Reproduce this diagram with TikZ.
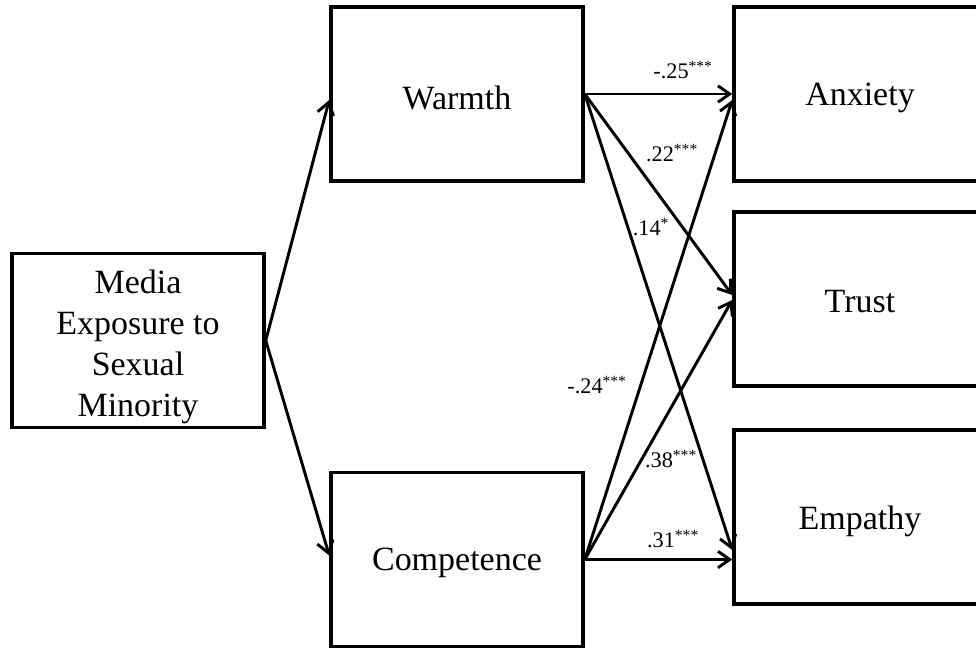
\documentclass[tikz,border=0pt]{standalone}
\usepackage{fontspec}
\setmainfont{Liberation Serif}
\usetikzlibrary{arrows.meta,calc}
\begin{document}
\begin{tikzpicture}[x=0.03cm,y=-0.03cm,
  varbox/.style={draw,line width=3pt,minimum width=7.56cm,minimum height=5.22cm,
    inner sep=0pt,align=center,font=\fontsize{29}{35}\selectfont},
  boxtext/.style={inner sep=0pt,align=center,font=\fontsize{29}{35}\selectfont},
  path/.style={line width=2.5pt,-{Straight Barb[length=10pt,width=14pt,line width=2.5pt]}},
  coef/.style={inner sep=0pt,font=\fontsize{19}{21}\selectfont}]
\useasboundingbox (0,0) rectangle (976,649);
\clip (0,0) rectangle (976,649);
\fill[white] (0,0) rectangle (976,649);

% predictor, mediators and outcomes
\node[varbox] (media) at (138,340.5) {};
\node[varbox] (warm) at (457,94) {};
\node[varbox] (comp) at (457,559.5) {};
\node[varbox] (anx) at (860,94) {};
\node[varbox] (trust) at (860,299) {};
\node[varbox] (emp) at (860,517) {};

% box labels, set a little below the box centres
\node[boxtext] (tmedia) at ($(media)+(0,6)$) {Media\\Exposure to\\Sexual\\Minority};
\node[boxtext] (twarm) at ($(warm)+(0,4)$) {Warmth};
\node[boxtext] (tcomp) at ($(comp)+(0,3)$) {Competence};
\node[boxtext] (tanx) at ($(anx)+(0,4)$) {Anxiety};
\node[boxtext] (ttrust) at ($(trust)+(0,3)$) {Trust};
\node[boxtext] (temp) at ($(emp)+(0,4)$) {Empathy};

% paths from media exposure
\draw[path] (media.east) -- ($(warm.west)+(0,6)$);
\draw[path] (media.east) -- ($(comp.west)+(0,-4)$);

% paths from warmth
\draw[path] (warm.east) -- (anx.west);
\draw[path] (warm.east) -- ($(trust.west)+(0,-4)$);
\draw[path] (warm.east) -- ($(emp.west)+(0,33)$);

% paths from competence
\draw[path] (comp.east) -- ($(anx.west)+(0,6)$);
\draw[path] (comp.east) -- ($(trust.west)+(0,1)$);
\draw[path] (comp.east) -- (emp.west |- comp.east);

% path coefficients
\node[coef] (c1) at (683,70) {-.25\textsuperscript{***}};
\node[coef] (c2) at (672,153) {.22\textsuperscript{***}};
\node[coef] (c3) at (651,227) {.14\textsuperscript{*}};
\node[coef] (c4) at (597,385) {-.24\textsuperscript{***}};
\node[coef] (c5) at (671,459) {.38\textsuperscript{***}};
\node[coef] (c6) at (673,539) {.31\textsuperscript{***}};
\end{tikzpicture}
\end{document}
